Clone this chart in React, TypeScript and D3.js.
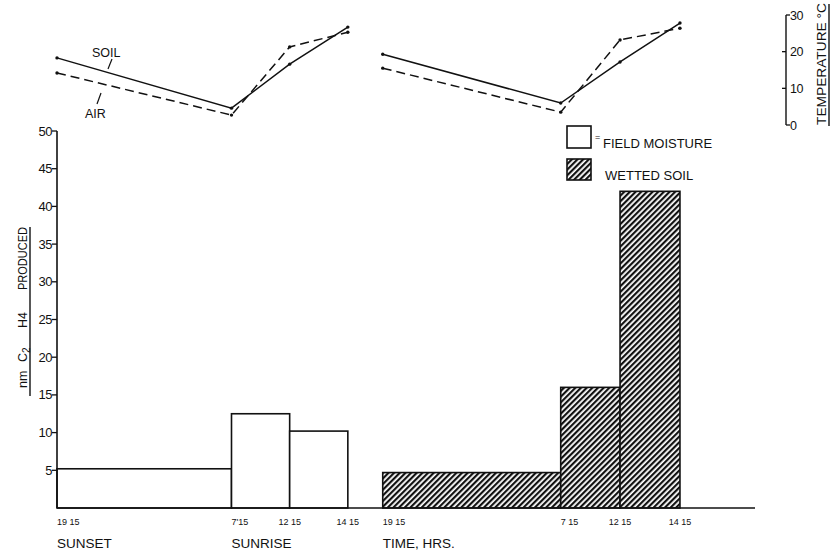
import React, { useRef, useEffect } from 'react';
import * as d3 from 'd3';

// x positions are in "slot" units: the original chart is not linear in time
const tickSlots = [0, 3, 4, 5, 5.6, 8.66, 9.68, 10.71];
const tickLabels = ['19 15', "7'15", '12 15', '14 15', '19 15', '7 15', '12 15', '14 15'];
const tickAnchors = ['start', 'start', 'middle', 'middle', 'start', 'start', 'middle', 'middle'];

const fieldMoisture = [5.2, 12.5, 10.2];
const wettedSoil = [4.7, 16, 42];

const soilTemp1 = [18.3, 4.6, 16.6, 26.7];
const airTemp1 = [14.2, 2.7, 21.3, 25.3];
const soilTemp2 = [19.3, 6.0, 17.2, 27.8];
const airTemp2 = [15.5, 3.5, 23.2, 26.4];

const yTicks = [5, 10, 15, 20, 25, 30, 35, 40, 45, 50];
const tempTicks = [0, 10, 20, 30];

const FONT = '"Liberation Sans", Arial, sans-serif';
const INK = '#111';

function App() {
  const svgRef = useRef(null);
  const width = 831;
  const height = 555;

  useEffect(() => {
    const x = d3.scaleLinear().domain([0, 12]).range([57, 755]);
    const y = d3.scaleLinear().domain([0, 50]).range([508, 131]);
    const t = d3.scaleLinear().domain([0, 30]).range([125, 15]);

    const svg = d3.select(svgRef.current);
    svg.selectAll('*').remove();

    const defs = svg.append('defs');
    const pat = defs
      .append('pattern')
      .attr('id', 'hatch')
      .attr('patternUnits', 'userSpaceOnUse')
      .attr('width', 4)
      .attr('height', 4)
      .attr('patternTransform', 'rotate(45)');
    pat.append('rect').attr('width', 4).attr('height', 4).attr('fill', 'white');
    pat.append('rect').attr('x', 0).attr('y', 0).attr('width', 2.2).attr('height', 4).attr('fill', INK);

    const g = svg.append('g').attr('font-family', FONT).attr('fill', INK);

    // bars
    const fieldBars = fieldMoisture.map((v, i) => ({ v, x0: tickSlots[i], x1: tickSlots[i + 1] }));
    const wetBars = wettedSoil.map((v, i) => ({ v, x0: tickSlots[i + 4], x1: tickSlots[i + 5] }));

    g.selectAll('.fbar')
      .data(fieldBars)
      .enter()
      .append('rect')
      .attr('x', (d) => x(d.x0))
      .attr('y', (d) => y(d.v))
      .attr('width', (d) => x(d.x1) - x(d.x0))
      .attr('height', (d) => y(0) - y(d.v))
      .attr('fill', 'white')
      .attr('stroke', INK)
      .attr('stroke-width', 1.6);

    g.selectAll('.wbar')
      .data(wetBars)
      .enter()
      .append('rect')
      .attr('x', (d) => x(d.x0))
      .attr('y', (d) => y(d.v))
      .attr('width', (d) => x(d.x1) - x(d.x0))
      .attr('height', (d) => y(0) - y(d.v))
      .attr('fill', 'url(#hatch)')
      .attr('stroke', INK)
      .attr('stroke-width', 1.6);

    // axes
    g.append('line').attr('x1', x(0)).attr('x2', x(12)).attr('y1', y(0)).attr('y2', y(0))
      .attr('stroke', INK).attr('stroke-width', 1.6);
    g.append('line').attr('x1', x(0)).attr('x2', x(0)).attr('y1', y(0)).attr('y2', y(50))
      .attr('stroke', INK).attr('stroke-width', 1.6);

    const yt = g.selectAll('.yt').data(yTicks).enter().append('g');
    yt.append('line').attr('x1', x(0) - 5).attr('x2', x(0)).attr('y1', (d) => y(d)).attr('y2', (d) => y(d))
      .attr('stroke', INK).attr('stroke-width', 1.3);
    yt.append('text').attr('x', x(0) - 5).attr('y', (d) => y(d) + 4.5)
      .attr('text-anchor', 'end').attr('font-size', 13).attr('letter-spacing', -0.5).text((d) => d);

    g.selectAll('.xt')
      .data(tickSlots)
      .enter()
      .append('text')
      .attr('x', (d) => x(d))
      .attr('y', 525)
      .attr('text-anchor', (d, i) => tickAnchors[i])
      .attr('font-size', 9)
      .text((d, i) => tickLabels[i]);

    g.append('text').attr('x', x(tickSlots[0])).attr('y', 548).attr('font-size', 13.5).text('SUNSET');
    g.append('text').attr('x', x(tickSlots[1])).attr('y', 548).attr('font-size', 13.5).text('SUNRISE');
    g.append('text').attr('x', x(tickSlots[4])).attr('y', 548).attr('font-size', 13.5).text('TIME, HRS.');

    // y axis title (rotated; x runs upward from the bottom of the label)
    const yl = g.append('text').attr('transform', 'translate(27,396) rotate(-90)').attr('font-size', 12.5);
    yl.append('tspan').attr('x', 8).text('nm');
    yl.append('tspan').attr('x', 34).text('C');
    yl.append('tspan').attr('font-size', 10).attr('dy', 3).text('2');
    yl.append('tspan').attr('x', 68).attr('dy', -3).text('H4');
    yl.append('tspan').attr('x', 106).attr('textLength', 63).attr('lengthAdjust', 'spacingAndGlyphs').text('PRODUCED');
    g.append('line').attr('x1', 30).attr('x2', 30).attr('y1', 227).attr('y2', 396)
      .attr('stroke', INK).attr('stroke-width', 1.4);

    // legend
    g.append('rect').attr('x', 567).attr('y', 126).attr('width', 24).attr('height', 22)
      .attr('fill', 'white').attr('stroke', INK).attr('stroke-width', 1.6);
    g.append('text').attr('x', 595).attr('y', 140).attr('font-size', 9).text('=');
    g.append('text').attr('x', 603).attr('y', 148).attr('font-size', 13).text('FIELD MOISTURE');
    g.append('rect').attr('x', 567).attr('y', 159).attr('width', 24).attr('height', 21)
      .attr('fill', 'url(#hatch)').attr('stroke', INK).attr('stroke-width', 1.6);
    g.append('text').attr('x', 605).attr('y', 180).attr('font-size', 13).text('WETTED SOIL');

    // temperature lines
    const line = d3.line().x((d) => x(d[0])).y((d) => t(d[1]));
    const sets = [
      { vals: soilTemp1, slots: tickSlots.slice(0, 4), dash: null },
      { vals: airTemp1, slots: tickSlots.slice(0, 4), dash: '9,5' },
      { vals: soilTemp2, slots: tickSlots.slice(4), dash: null },
      { vals: airTemp2, slots: tickSlots.slice(4), dash: '9,5' },
    ];
    sets.forEach((s) => {
      const pts = s.vals.map((v, i) => [s.slots[i], v]);
      g.append('path').attr('d', line(pts)).attr('fill', 'none').attr('stroke', INK)
        .attr('stroke-width', 1.5).attr('stroke-dasharray', s.dash);
      g.selectAll(null).data(pts).enter().append('circle')
        .attr('cx', (d) => x(d[0])).attr('cy', (d) => t(d[1])).attr('r', 1.7).attr('fill', INK);
    });

    g.append('text').attr('x', 92).attr('y', 57).attr('font-size', 12.5).text('SOIL');
    g.append('line').attr('x1', 112).attr('y1', 59).attr('x2', 108).attr('y2', 69).attr('stroke', INK).attr('stroke-width', 1.2);
    g.append('text').attr('x', 85).attr('y', 118).attr('font-size', 12.5).text('AIR');
    g.append('line').attr('x1', 101).attr('y1', 93).attr('x2', 97).attr('y2', 104).attr('stroke', INK).attr('stroke-width', 1.2);

    // temperature axis
    const ax = 786;
    g.append('line').attr('x1', ax).attr('x2', ax).attr('y1', t(0)).attr('y2', t(30))
      .attr('stroke', INK).attr('stroke-width', 1.4);
    const tt = g.selectAll('.tt').data(tempTicks).enter().append('g');
    tt.append('line')
      .attr('x1', (d) => (d === 0 || d === 30 ? ax : ax - 4))
      .attr('x2', (d) => (d === 0 || d === 30 ? ax + 4 : ax))
      .attr('y1', (d) => t(d)).attr('y2', (d) => t(d))
      .attr('stroke', INK).attr('stroke-width', 1.3);
    tt.append('text').attr('x', ax + 4).attr('y', (d) => t(d) + 4.5).attr('font-size', 12.5)
      .attr('letter-spacing', -0.5).text((d) => d);
    g.append('text').attr('transform', 'translate(826,125) rotate(-90)').attr('font-size', 12)
      .attr('textLength', 122).attr('lengthAdjust', 'spacingAndGlyphs').text('TEMPERATURE °C');
    g.append('line').attr('x1', 829).attr('x2', 829).attr('y1', 4).attr('y2', 126)
      .attr('stroke', INK).attr('stroke-width', 1.4);
  }, []);

  return (
    <svg
      ref={svgRef}
      width={width}
      height={height}
      style={{ position: 'absolute', left: 0, top: 0, background: 'white' }}
    />
  );
}

export default App;
